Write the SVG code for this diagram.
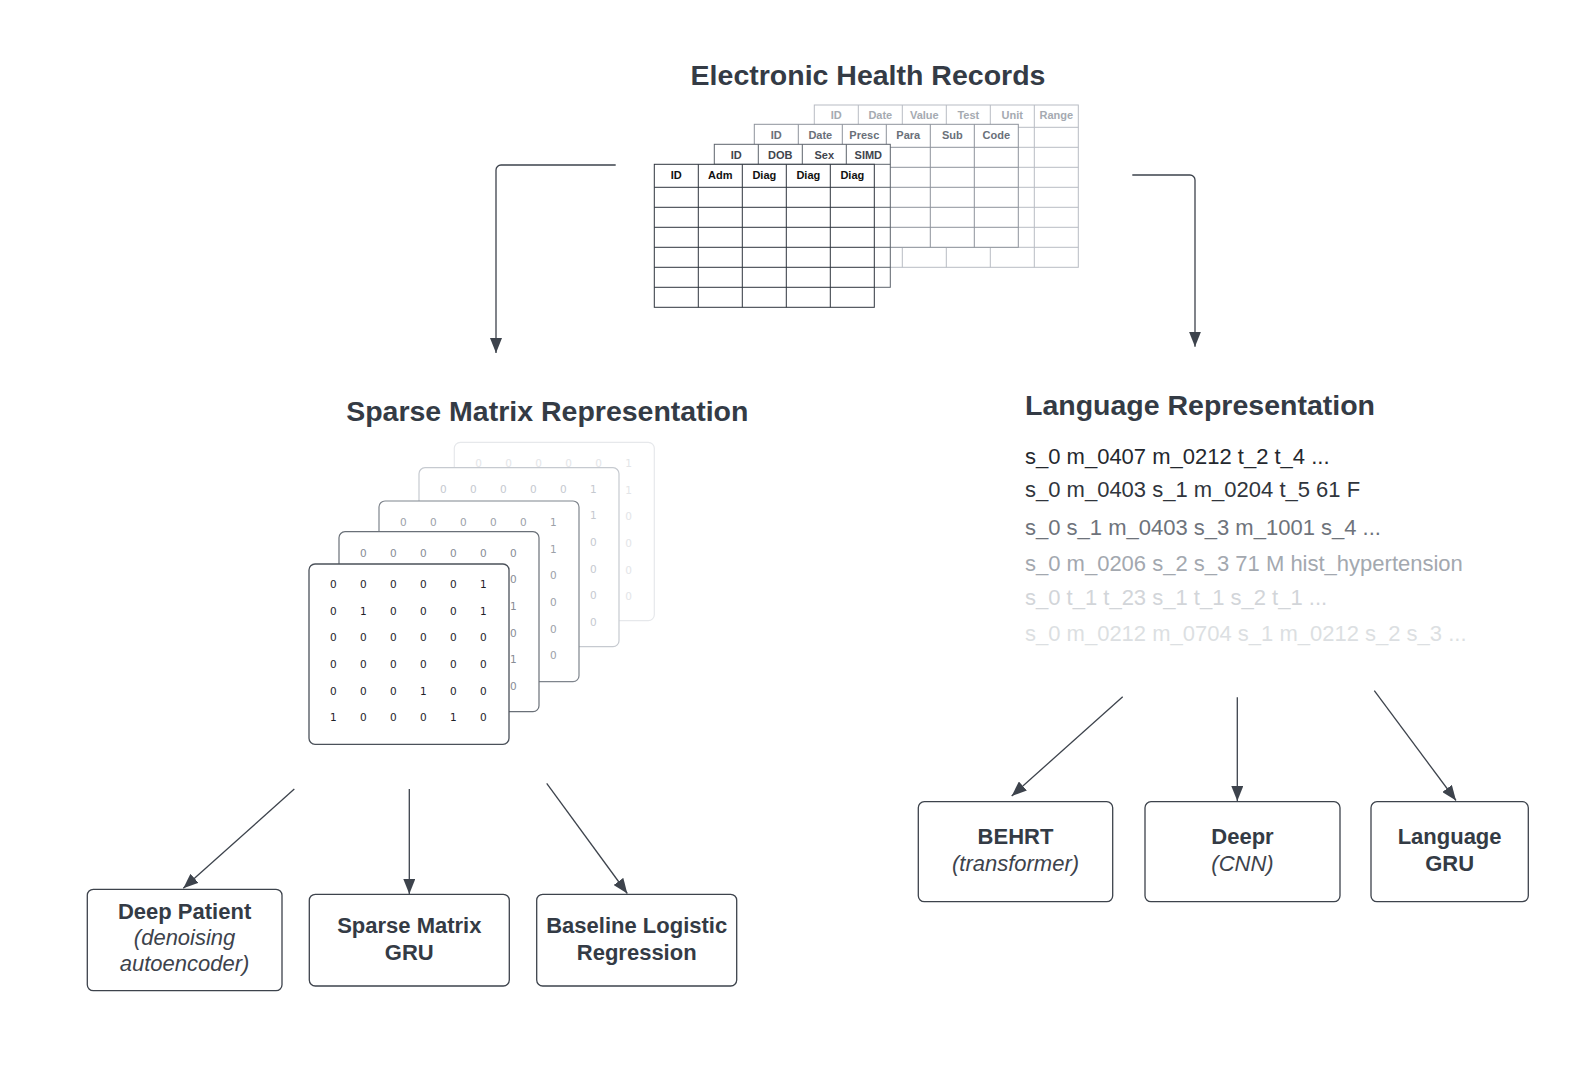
<svg xmlns="http://www.w3.org/2000/svg" width="1595" height="1075" viewBox="0 0 1595 1075">
<defs>
<style>
.title{font-family:"Liberation Sans",Arial,sans-serif;font-weight:bold;font-size:28.5px;fill:#343b45}
.bx{fill:#fff;stroke:#3d434c;stroke-width:1.3}
.bt{font-family:"Liberation Sans",Arial,sans-serif;font-weight:bold;font-size:22px;fill:#343b45;text-anchor:middle}
.it{font-family:"Liberation Sans",Arial,sans-serif;font-style:italic;font-size:22px;fill:#3d434c;text-anchor:middle}
.lang{font-family:"Liberation Sans",Arial,sans-serif;font-size:22px}
.th{font-family:"Liberation Sans",Arial,sans-serif;font-weight:bold;font-size:11px;text-anchor:middle}
.dg{font-family:"DejaVu Sans",sans-serif;font-size:10.5px;text-anchor:middle}
.conn{fill:none;stroke:#3d434c;stroke-width:1.3}
</style>
<marker id="ah" markerUnits="userSpaceOnUse" markerWidth="16" markerHeight="12" refX="15" refY="6" orient="auto">
<path d="M0,0 L15,6 L0,12 z" fill="#3d434c"/>
</marker>
</defs>
<rect width="1595" height="1075" fill="#fff"/>

<g id="ehr">
<text class="title" x="868" y="84.5" text-anchor="middle">Electronic Health Records</text>
<g id="table-lab" stroke="#b8bcc3" stroke-width="1">
<rect x="814.3" y="105" width="264" height="162.3" fill="#fff"/>
<path d="M814.3,127.3H1078.3M814.3,147.3H1078.3M814.3,167.3H1078.3M814.3,187.3H1078.3M814.3,207.3H1078.3M814.3,227.3H1078.3M814.3,247.3H1078.3M858.3,105V267.3M902.3,105V267.3M946.3,105V267.3M990.3,105V267.3M1034.3,105V267.3"/>
<g class="th" fill="#a5aab1" stroke="none">
<text x="836.3" y="118.5">ID</text><text x="880.3" y="118.5">Date</text><text x="924.3" y="118.5">Value</text><text x="968.3" y="118.5">Test</text><text x="1012.3" y="118.5">Unit</text><text x="1056.3" y="118.5">Range</text>
</g>
</g>
<g id="table-presc" stroke="#8e939b" stroke-width="1">
<rect x="754.3" y="124.3" width="264" height="123" fill="#fff"/>
<path d="M754.3,147.3H1018.3M754.3,167.3H1018.3M754.3,187.3H1018.3M754.3,207.3H1018.3M754.3,227.3H1018.3M798.3,124.3V247.3M842.3,124.3V247.3M886.3,124.3V247.3M930.3,124.3V247.3M974.3,124.3V247.3"/>
<g class="th" fill="#6a7079" stroke="none">
<text x="776.3" y="138.5">ID</text><text x="820.3" y="138.5">Date</text><text x="864.3" y="138.5">Presc</text><text x="908.3" y="138.5">Para</text><text x="952.3" y="138.5">Sub</text><text x="996.3" y="138.5">Code</text>
</g>
</g>
<g id="table-demo" stroke="#5d636c" stroke-width="1">
<rect x="714.3" y="144.3" width="176" height="143" fill="#fff"/>
<path d="M714.3,164.3H890.3M714.3,187.3H890.3M714.3,207.3H890.3M714.3,227.3H890.3M714.3,247.3H890.3M714.3,267.3H890.3M758.3,144.3V287.3M802.3,144.3V287.3M846.3,144.3V287.3"/>
<g class="th" fill="#3f454e" stroke="none">
<text x="736.3" y="158.5">ID</text><text x="780.3" y="158.5">DOB</text><text x="824.3" y="158.5">Sex</text><text x="868.3" y="158.5">SIMD</text>
</g>
</g>
<g id="table-adm" stroke="#2f353e" stroke-width="1">
<rect x="654.3" y="164.3" width="220" height="143" fill="#fff"/>
<path d="M654.3,187.3H874.3M654.3,207.3H874.3M654.3,227.3H874.3M654.3,247.3H874.3M654.3,267.3H874.3M654.3,287.3H874.3M698.3,164.3V307.3M742.3,164.3V307.3M786.3,164.3V307.3M830.3,164.3V307.3"/>
<g class="th" fill="#111" stroke="none">
<text x="676.3" y="179">ID</text><text x="720.3" y="179">Adm</text><text x="764.3" y="179">Diag</text><text x="808.3" y="179">Diag</text><text x="852.3" y="179">Diag</text>
</g>
</g>
</g>

<g id="sparse">
<text class="title" x="547.3" y="420.5" text-anchor="middle">Sparse Matrix Representation</text>
<g id="card5">
<rect x="454.3" y="442.3" width="200" height="178.4" rx="6" fill="#fff" stroke="#e6e8eb" stroke-width="1.2"/>
<g class="dg" fill="#e3e5e8">
<text x="478.6" y="467">0</text><text x="508.6" y="467">0</text><text x="538.6" y="467">0</text><text x="568.6" y="467">0</text><text x="598.6" y="467">0</text><text x="628.6" y="467">1</text>
<text x="628.6" y="493.7">1</text><text x="628.6" y="520.3">0</text><text x="628.6" y="547">0</text><text x="628.6" y="573.7">0</text><text x="628.6" y="600.3">0</text>
</g>
</g>
<g id="card4">
<rect x="419" y="467.7" width="200" height="179" rx="6" fill="#fff" stroke="#c6cad0" stroke-width="1.2"/>
<g class="dg" fill="#c5c9cf">
<text x="443.3" y="492.5">0</text><text x="473.3" y="492.5">0</text><text x="503.3" y="492.5">0</text><text x="533.3" y="492.5">0</text><text x="563.3" y="492.5">0</text><text x="593.3" y="492.5">1</text>
<text x="593.3" y="519.2">1</text><text x="593.3" y="545.8">0</text><text x="593.3" y="572.5">0</text><text x="593.3" y="599.2">0</text><text x="593.3" y="625.8">0</text>
</g>
</g>
<g id="card3">
<rect x="379" y="501" width="200" height="180.7" rx="6" fill="#fff" stroke="#7f858d" stroke-width="1.2"/>
<g class="dg" fill="#9ca1a8">
<text x="403.3" y="525.8">0</text><text x="433.3" y="525.8">0</text><text x="463.3" y="525.8">0</text><text x="493.3" y="525.8">0</text><text x="523.3" y="525.8">0</text><text x="553.3" y="525.8">1</text>
<text x="553.3" y="552.5">1</text><text x="553.3" y="579.1">0</text><text x="553.3" y="605.8">0</text><text x="553.3" y="632.5">0</text><text x="553.3" y="659.1">0</text>
</g>
</g>
<g id="card2">
<rect x="339" y="531.7" width="200" height="180" rx="6" fill="#fff" stroke="#6a7078" stroke-width="1.2"/>
<g class="dg" fill="#888d95">
<text x="363.3" y="556.5">0</text><text x="393.3" y="556.5">0</text><text x="423.3" y="556.5">0</text><text x="453.3" y="556.5">0</text><text x="483.3" y="556.5">0</text><text x="513.3" y="556.5">0</text>
<text x="513.3" y="583.2">0</text><text x="513.3" y="609.8">1</text><text x="513.3" y="636.5">0</text><text x="513.3" y="663.2">1</text><text x="513.3" y="689.8">0</text>
</g>
</g>
<g id="card1">
<rect x="309" y="564" width="200" height="180.3" rx="6" fill="#fff" stroke="#4b515a" stroke-width="1.3"/>
<g class="dg" fill="#1f2328">
<text x="333.3" y="588">0</text><text x="363.3" y="588">0</text><text x="393.3" y="588">0</text><text x="423.3" y="588">0</text><text x="453.3" y="588">0</text><text x="483.3" y="588">1</text>
<text x="333.3" y="614.7">0</text><text x="363.3" y="614.7">1</text><text x="393.3" y="614.7">0</text><text x="423.3" y="614.7">0</text><text x="453.3" y="614.7">0</text><text x="483.3" y="614.7">1</text>
<text x="333.3" y="641.3">0</text><text x="363.3" y="641.3">0</text><text x="393.3" y="641.3">0</text><text x="423.3" y="641.3">0</text><text x="453.3" y="641.3">0</text><text x="483.3" y="641.3">0</text>
<text x="333.3" y="668">0</text><text x="363.3" y="668">0</text><text x="393.3" y="668">0</text><text x="423.3" y="668">0</text><text x="453.3" y="668">0</text><text x="483.3" y="668">0</text>
<text x="333.3" y="694.7">0</text><text x="363.3" y="694.7">0</text><text x="393.3" y="694.7">0</text><text x="423.3" y="694.7">1</text><text x="453.3" y="694.7">0</text><text x="483.3" y="694.7">0</text>
<text x="333.3" y="721.3">1</text><text x="363.3" y="721.3">0</text><text x="393.3" y="721.3">0</text><text x="423.3" y="721.3">0</text><text x="453.3" y="721.3">1</text><text x="483.3" y="721.3">0</text>
</g>
</g>
</g>

<g id="language">
<text class="title" x="1025" y="414.5">Language Representation</text>
<text class="lang" x="1025" y="464" fill="#24282e">s_0 m_0407 m_0212 t_2 t_4 ...</text>
<text class="lang" x="1025" y="496.5" fill="#30353c">s_0 m_0403 s_1 m_0204 t_5 61 F</text>
<text class="lang" x="1025" y="534.5" fill="#6e737b">s_0 s_1 m_0403 s_3 m_1001 s_4 ...</text>
<text class="lang" x="1025" y="571" fill="#a3a8af">s_0 m_0206 s_2 s_3 71 M hist_hypertension</text>
<text class="lang" x="1025" y="604.5" fill="#d2d5d9">s_0 t_1 t_23 s_1 t_1 s_2 t_1 ...</text>
<text class="lang" x="1025" y="641" fill="#dcdfe2">s_0 m_0212 m_0704 s_1 m_0212 s_2 s_3 ...</text>
</g>

<g id="deep-patient">
<rect class="bx" x="87.3" y="889.3" width="194.7" height="101.4" rx="6"/>
<text class="bt" x="184.6" y="919">Deep Patient</text>
<text class="it" x="184.6" y="945.3">(denoising</text>
<text class="it" x="184.6" y="971.3">autoencoder)</text>
</g>
<g id="sparse-gru">
<rect class="bx" x="309.3" y="894.3" width="200" height="91.7" rx="6"/>
<text class="bt" x="409.3" y="933">Sparse Matrix</text>
<text class="bt" x="409.3" y="959.5">GRU</text>
</g>
<g id="baseline-lr">
<rect class="bx" x="536.7" y="894.3" width="200" height="91.7" rx="6"/>
<text class="bt" x="636.7" y="933">Baseline Logistic</text>
<text class="bt" x="636.7" y="959.5">Regression</text>
</g>
<g id="behrt">
<rect class="bx" x="918.3" y="801.7" width="194.4" height="100" rx="6"/>
<text class="bt" x="1015.5" y="844.3">BEHRT</text>
<text class="it" x="1015.5" y="870.5">(transformer)</text>
</g>
<g id="deepr">
<rect class="bx" x="1145" y="801.7" width="195" height="100" rx="6"/>
<text class="bt" x="1242.5" y="844.3">Deepr</text>
<text class="it" x="1242.5" y="870.5">(CNN)</text>
</g>
<g id="language-gru">
<rect class="bx" x="1371" y="801.7" width="157.3" height="100" rx="6"/>
<text class="bt" x="1449.6" y="844.3">Language</text>
<text class="bt" x="1449.6" y="870.5">GRU</text>
</g>

<g id="connectors" class="conn">
<path d="M615.7,165H501a5,5 0 0 0 -5,5V353" marker-end="url(#ah)"/>
<path d="M1132.3,175H1190a5,5 0 0 1 5,5V346.7" marker-end="url(#ah)"/>
<path d="M294.3,789L183.3,888.3" marker-end="url(#ah)"/>
<path d="M409.3,789V894" marker-end="url(#ah)"/>
<path d="M546.7,783.3L627.3,893.5" marker-end="url(#ah)"/>
<path d="M1122.7,696.7L1011.7,796" marker-end="url(#ah)"/>
<path d="M1237.3,697.3V801" marker-end="url(#ah)"/>
<path d="M1374.3,690.7L1456,800.5" marker-end="url(#ah)"/>
</g>
</svg>
